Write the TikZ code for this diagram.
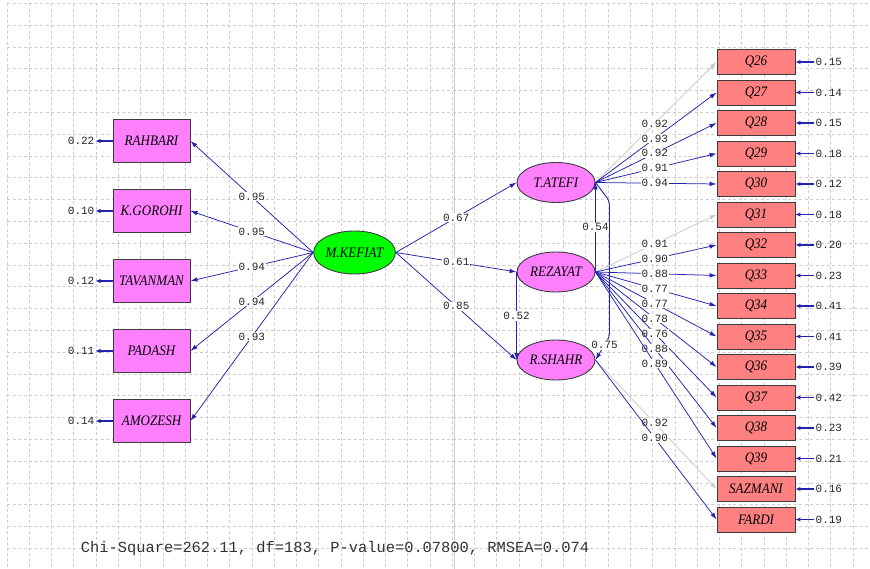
\documentclass[tikz,border=0pt]{standalone}
\usepackage{fontspec}
\newfontfamily\lblfont[FakeStretch=0.9]{Liberation Serif}
\newfontfamily\numfont{Liberation Mono}
\usetikzlibrary{arrows.meta,positioning,shapes.geometric}
\definecolor{pathblue}{RGB}{35,35,175}
\definecolor{fixgray}{RGB}{200,200,200}
\definecolor{gridgray}{RGB}{205,205,205}
\definecolor{obspink}{RGB}{255,128,255}
\definecolor{latgreen}{RGB}{0,255,0}
\definecolor{qsalmon}{RGB}{255,128,128}
\definecolor{edgegray}{RGB}{60,60,60}
\tikzset{
  lbox/.style={draw=edgegray, rectangle, fill=obspink, minimum width=77pt, minimum height=43pt, inner sep=2pt, font=\lblfont\itshape\fontsize{14.5}{16}\selectfont, line width=0.9pt},
  qbox/.style={lbox, fill=qsalmon, minimum width=78pt, minimum height=25pt},
  latent/.style={draw=edgegray, ellipse, fill=obspink, minimum width=78pt, minimum height=40pt, inner sep=0pt, font=\lblfont\itshape\fontsize{14.5}{16}\selectfont, line width=0.9pt},
  lbl/.style={fill=white, inner sep=1pt, font=\numfont\fontsize{11}{12}\selectfont, text=black!85},
  errlbl/.style={inner sep=1pt, font=\numfont\fontsize{11}{12}\selectfont, text=black!85},
  arr/.style={-{Latex[length=7pt,width=4.5pt]}, pathblue, line width=0.75pt},
  garr/.style={arr, fixgray},
  earr/.style={-{Latex[length=5pt,width=4.5pt]}, pathblue, line width=1.5pt},
  gridline/.style={gridgray, dash pattern=on 3pt off 2.5pt, line width=0.6pt},
}
\begin{document}
\begin{tikzpicture}[x=1pt, y=-1pt]

\fill[white] (0,0) rectangle (870,569);
\useasboundingbox (0,0) rectangle (870,569);
\foreach \gx in {0,...,38} \draw[gridline] ({7+22.26*\gx},3.3) -- ({7+22.26*\gx},569);
\foreach \gy in {0,...,25} \draw[gridline] (7,{3.3+21.8*\gy}) -- (870,{3.3+21.8*\gy});
\draw[gridgray, line width=0.6pt] (454,0) -- (454,569);

\node[lbox] (rahbari) at (151.5,141) {RAHBARI};
\node[lbox, below=26.1pt of rahbari] (gorohi) {K.GOROHI};
\node[lbox, below=26.1pt of gorohi] (tavanman) {TAVANMAN};
\node[lbox, below=26.1pt of tavanman] (padash) {PADASH};
\node[lbox, below=26.1pt of padash] (amozesh) {AMOZESH};

\node[errlbl, left=17pt of rahbari] (erahbari) {0.22};
\node[errlbl, left=17pt of gorohi] (egorohi) {0.10};
\node[errlbl, left=17pt of tavanman] (etavanman) {0.12};
\node[errlbl, left=17pt of padash] (epadash) {0.11};
\node[errlbl, left=17pt of amozesh] (eamozesh) {0.14};

\node[latent, fill=latgreen, minimum width=79pt, minimum height=43pt] (kefiat) at (354.5,252.5) {M.KEFIAT};
\node[latent] (atefi) at (556,182.5) {T.ATEFI};
\node[latent, below=48.6pt of atefi] (rezayat) {REZAYAT};
\node[latent, below=47.1pt of rezayat] (rshahr) {R.SHAHR};

\node[qbox] (q26) at (756,62) {Q26};
\node[qbox, below=4.6pt of q26] (q27) {Q27};
\node[qbox, below=4.6pt of q27] (q28) {Q28};
\node[qbox, below=4.6pt of q28] (q29) {Q29};
\node[qbox, below=4.6pt of q29] (q30) {Q30};
\node[qbox, below=4.6pt of q30] (q31) {Q31};
\node[qbox, below=4.6pt of q31] (q32) {Q32};
\node[qbox, below=4.6pt of q32] (q33) {Q33};
\node[qbox, below=4.6pt of q33] (q34) {Q34};
\node[qbox, below=4.6pt of q34] (q35) {Q35};
\node[qbox, below=4.6pt of q35] (q36) {Q36};
\node[qbox, below=4.6pt of q36] (q37) {Q37};
\node[qbox, below=4.6pt of q37] (q38) {Q38};
\node[qbox, below=4.6pt of q38] (q39) {Q39};
\node[qbox, below=4.6pt of q39] (sazmani) {SAZMANI};
\node[qbox, below=4.6pt of sazmani] (fardi) {FARDI};

\node[errlbl, right=19pt of q26] (eq26) {0.15};
\node[errlbl, right=19pt of q27] (eq27) {0.14};
\node[errlbl, right=19pt of q28] (eq28) {0.15};
\node[errlbl, right=19pt of q29] (eq29) {0.18};
\node[errlbl, right=19pt of q30] (eq30) {0.12};
\node[errlbl, right=19pt of q31] (eq31) {0.18};
\node[errlbl, right=19pt of q32] (eq32) {0.20};
\node[errlbl, right=19pt of q33] (eq33) {0.23};
\node[errlbl, right=19pt of q34] (eq34) {0.41};
\node[errlbl, right=19pt of q35] (eq35) {0.41};
\node[errlbl, right=19pt of q36] (eq36) {0.39};
\node[errlbl, right=19pt of q37] (eq37) {0.42};
\node[errlbl, right=19pt of q38] (eq38) {0.23};
\node[errlbl, right=19pt of q39] (eq39) {0.21};
\node[errlbl, right=19pt of sazmani] (esazmani) {0.16};
\node[errlbl, right=19pt of fardi] (efardi) {0.19};

\draw[earr] (rahbari.west) -- (erahbari);
\draw[earr] (gorohi.west) -- (egorohi);
\draw[earr] (tavanman.west) -- (etavanman);
\draw[earr] (padash.west) -- (epadash);
\draw[earr] (amozesh.west) -- (eamozesh);

\draw[earr] (eq26) -- (q26.east);
\draw[earr] (eq27) -- (q27.east);
\draw[earr] (eq28) -- (q28.east);
\draw[earr] (eq29) -- (q29.east);
\draw[earr] (eq30) -- (q30.east);
\draw[earr] (eq31) -- (q31.east);
\draw[earr] (eq32) -- (q32.east);
\draw[earr] (eq33) -- (q33.east);
\draw[earr] (eq34) -- (q34.east);
\draw[earr] (eq35) -- (q35.east);
\draw[earr] (eq36) -- (q36.east);
\draw[earr] (eq37) -- (q37.east);
\draw[earr] (eq38) -- (q38.east);
\draw[earr] (eq39) -- (q39.east);
\draw[earr] (esazmani) -- (sazmani.east);
\draw[earr] (efardi) -- (fardi.east);

\draw[arr] (kefiat.west) -- node[lbl] {0.95} (rahbari.east);
\draw[arr] (kefiat.west) -- node[lbl] {0.95} (gorohi.east);
\draw[arr] (kefiat.west) -- node[lbl] {0.94} (tavanman.east);
\draw[arr] (kefiat.west) -- node[lbl] {0.94} (padash.east);
\draw[arr] (kefiat.west) -- node[lbl] {0.93} (amozesh.east);

\draw[arr] (kefiat.east) -- node[lbl] {0.67} (atefi.west);
\draw[arr] (kefiat.east) -- node[lbl] {0.61} (rezayat.west);
\draw[arr] (kefiat.east) -- node[lbl] {0.85} (rshahr.west);
\draw[arr] (rezayat.east) -- node[lbl] {0.54} (atefi.east);
\draw[arr] (rezayat.west) -- node[lbl] {0.52} (rshahr.west);
\coordinate (bendtop) at (609.5,201);
\coordinate (bendbot) at (609.5,337);
\draw[arr, line width=0.9pt, rounded corners=4pt] (atefi.east) -- (bendtop) -- (bendbot) -- node[lbl, pos=0.35] {0.75} (rshahr.east);

\draw[garr] (atefi.east) -- node[lbl, pos=0.49] {0.92} (q26.west);
\draw[arr] (atefi.east) -- node[lbl, pos=0.49] {0.93} (q27.west);
\draw[arr] (atefi.east) -- node[lbl, pos=0.49] {0.92} (q28.west);
\draw[arr] (atefi.east) -- node[lbl, pos=0.49] {0.91} (q29.west);
\draw[arr] (atefi.east) -- node[lbl, pos=0.49] {0.94} (q30.west);

\draw[garr] (rezayat.east) -- node[lbl, pos=0.49] {0.91} (q31.west);
\draw[arr] (rezayat.east) -- node[lbl, pos=0.49] {0.90} (q32.west);
\draw[arr] (rezayat.east) -- node[lbl, pos=0.49] {0.88} (q33.west);
\draw[arr] (rezayat.east) -- node[lbl, pos=0.49] {0.77} (q34.west);
\draw[arr] (rezayat.east) -- node[lbl, pos=0.49] {0.77} (q35.west);
\draw[arr] (rezayat.east) -- node[lbl, pos=0.49] {0.78} (q36.west);
\draw[arr] (rezayat.east) -- node[lbl, pos=0.49] {0.76} (q37.west);
\draw[arr] (rezayat.east) -- node[lbl, pos=0.49] {0.88} (q38.west);
\draw[arr] (rezayat.east) -- node[lbl, pos=0.49] {0.89} (q39.west);

\draw[garr] (rshahr.east) -- node[lbl, pos=0.49] {0.92} (sazmani.west);
\draw[arr] (rshahr.east) -- node[lbl, pos=0.49] {0.90} (fardi.west);

\node[font=\numfont\fontsize{15.4}{17}\selectfont, text=black!80] (fitline) at (335,549) {Chi-Square=262.11, df=183, P-value=0.07800, RMSEA=0.074};

\end{tikzpicture}
\end{document}
